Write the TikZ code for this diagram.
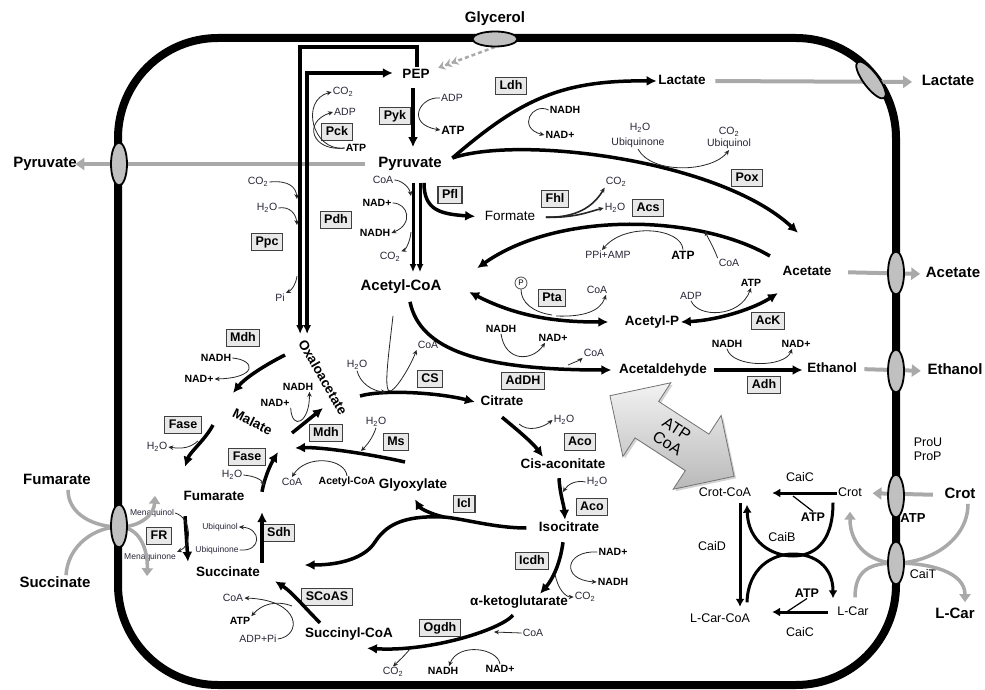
\documentclass[tikz,border=0pt]{standalone}
\usepackage{fontspec}
\setmainfont{Liberation Sans}
\usetikzlibrary{arrows.meta, shapes.geometric, shapes.arrows, shadows, positioning}

\definecolor{pwGray}{HTML}{A9A9A9}
\definecolor{pwChan}{HTML}{C0C0C0}
\definecolor{pwBox}{HTML}{E8E8E8}
\definecolor{pwEdge}{HTML}{404040}
\definecolor{pwCof}{HTML}{262637}

\tikzset{
  pwmet/.style={font=\fontsize{13.5}{15}\selectfont\bfseries, inner sep=1.5pt, text height=10pt, text depth=3pt},
  pwbig/.style={font=\fontsize{15}{17}\selectfont\bfseries, inner sep=1.5pt, text height=11pt, text depth=3.3pt},
  pwreg/.style={font=\fontsize{13.5}{15}\selectfont, inner sep=1.5pt, text height=10pt, text depth=3pt},
  pwcai/.style={font=\fontsize{12.5}{14}\selectfont, inner sep=1.5pt, text height=9.5pt, text depth=2.5pt},
  pwcof/.style={font=\fontsize{10.5}{12}\selectfont, inner sep=1pt, text=pwCof},
  pwcofb/.style={font=\fontsize{10.5}{12}\selectfont\bfseries, inner sep=1pt},
  pwtiny/.style={font=\fontsize{8.5}{9}\selectfont, inner sep=1pt, text=pwCof},
  enzbox/.style={draw=pwEdge, fill=pwBox, line width=1.1pt,
    font=\fontsize{12.5}{14}\selectfont\bfseries, inner xsep=4pt, inner ysep=3pt,
    text height=9pt, text depth=2.5pt},
  membrane/.style={line width=8pt, rounded corners=100pt},
  chanv/.style={ellipse, draw, line width=1.8pt, fill=pwChan, minimum width=16pt, minimum height=43pt, inner sep=0pt},
  chanh/.style={ellipse, draw, line width=1.8pt, fill=pwChan, minimum width=45pt, minimum height=15pt, inner sep=0pt},
  flux/.style={line width=3.5pt, -{Latex[length=10pt,width=10pt]}},
  fluxd/.style={line width=3.5pt, {Latex[length=10pt,width=10pt]}-{Latex[length=10pt,width=10pt]}},
  fluxp/.style={line width=3pt, -{Latex[length=8pt,width=7pt]}},
  fluxs/.style={line width=3pt, -{Latex[length=8pt,width=9pt]}},
  cofa/.style={line width=0.8pt, draw=black!85, -{Stealth[length=5pt,width=4.5pt]}},
  cofl/.style={line width=0.8pt, draw=black!85},
  trans/.style={line width=4pt, draw=pwGray, -{Triangle[length=9pt,width=12pt]}},
  transs/.style={line width=3.5pt, draw=pwGray, -{Triangle[length=8pt,width=11pt]}},
  glydash/.style={line width=2.5pt, draw=pwGray, dash pattern=on 4pt off 3pt,
    -{Stealth[length=7pt,width=9pt] Stealth[length=7pt,width=9pt] Stealth[length=7pt,width=9pt]}},
  bigarrow/.style={double arrow, draw=black!55, line width=0.8pt, top color=gray!10, bottom color=gray!55,
    double arrow head extend=20pt, minimum height=148pt, minimum width=88pt, inner sep=5pt,
    font=\fontsize{16}{17}\selectfont, align=center,
    drop shadow={opacity=0.35, shadow xshift=2pt, shadow yshift=-2pt}},
  pcirc/.style={circle, draw=black!70, line width=0.8pt, fill=white, inner sep=0.5pt,
    minimum size=12pt, font=\fontsize{8}{9}\selectfont}
}

\begin{document}
\begin{tikzpicture}[x=1pt, y=-1pt]
  \useasboundingbox (0,0) rectangle (985,690);

  % cell
  \draw[membrane] (118,38) rectangle (896,685);

  % outside
  \node[pwbig] (glyc) at (495,19) {Glycerol};
  \node[pwbig] (pyrout) at (45,164) {Pyruvate};
  \node[pwbig] (lacout) at (948,82) {Lactate};
  \node[pwbig] (aceout) at (953,274) {Acetate};
  \node[pwbig] (etohout) at (955,371) {Ethanol};
  \node[pwbig] (fumout) at (57,481) {Fumarate};
  \node[pwbig] (succout) at (55,584) {Succinate};
  \node[pwbig] (crotout) at (960,495) {Crot};
  \node[pwbig] (lcarout) at (955,615) {L-Car};
  \node[pwcai, align=left] (prou) at (928,457) {ProU\\ProP};
  \node[pwcofb, font=\fontsize{13}{14}\selectfont\bfseries] (tatp) at (913,518) {ATP};
  \node[pwcai] (cait) at (923,575) {CaiT};

  % metabolites
  \node[pwmet] (pep) at (416,75) {PEP};
  \node[pwbig] (pyr) at (410,164) {Pyruvate};
  \node[pwbig] (acoa) at (401,287) {Acetyl-CoA};
  \node[pwmet] (lacin) at (682,81) {Lactate};
  \node[pwreg] (form) at (510,217) {Formate};
  \node[pwmet] (acein) at (807,272) {Acetate};
  \node[pwmet] (acp) at (652,322) {Acetyl-P};
  \node[pwmet] (acald) at (663,370) {Acetaldehyde};
  \node[pwmet] (etoh) at (832,369) {Ethanol};
  \node[pwmet] (cit) at (502,402) {Citrate};
  \node[pwmet] (cisa) at (563,465) {Cis-aconitate};
  \node[pwmet] (icit) at (569,528) {Isocitrate};
  \node[pwmet] (akg) at (519,602) {α-ketoglutarate};
  \node[pwmet] (sucoa) at (349,634) {Succinyl-CoA};
  \node[pwmet] (succ) at (228,573) {Succinate};
  \node[pwmet] (fum) at (214,497) {Fumarate};
  \node[pwmet, rotate=-26] (mal) at (252,423) {Malate};
  \node[pwmet, rotate=-60] (oaa) at (322,378) {Oxaloacetate};
  \node[pwmet] (glx) at (413,485) {Glyoxylate};

  % carnitine part
  \node[pwcai] (crotcoa) at (725,493) {Crot-CoA};
  \node[pwcai] (crot) at (850,493) {Crot};
  \node[pwcai] (lcarcoa) at (720,619) {L-Car-CoA};
  \node[pwcai] (lcar) at (853,612) {L-Car};
  \node[pwcai] (caic1) at (800,478) {CaiC};
  \node[pwcai] (caic2) at (800,633) {CaiC};
  \node[pwcai] (caid) at (712,547) {CaiD};
  \node[pwcai] (caib) at (782,538) {CaiB};
  \node[pwcofb, font=\fontsize{12.5}{14}\selectfont\bfseries] (caiatp1) at (813,517) {ATP};
  \node[pwcofb, font=\fontsize{12.5}{14}\selectfont\bfseries] (caiatp2) at (807,593) {ATP};

  % enzymes
  \foreach \nm/\x/\y/\txt in {pck/337/132/Pck, pyk/395/116/Pyk, ldh/511/86/Ldh, ppc/267/242/Ppc,
      pdh/336/220/Pdh, pfl/450/195/Pfl, fhl/555/199/Fhl, acs/648/208/Acs, pox/747/178/Pox,
      pta/552/298/Pta, ack/768/321/AcK, addh/523/381/AdDH, adh/764/385/Adh, cs/430/379/CS,
      aco1/580/442/Aco, aco2/592/507/Aco, icdh/532/561/Icdh, icl/464/504/Icl, ogdh/440/628/Ogdh,
      scoas/327/597/SCoAS, ms/396/442/Ms, mdh1/243/338/Mdh, mdh2/326/433/Mdh, fase1/183/425/Fase,
      fase2/247/457/Fase, sdh/279/533/Sdh, fr/159/536/FR}
    \node[enzbox] (\nm) at (\x,\y) {\txt};

  % cofactors
  \foreach \nm/\x/\y/\txt in {pckco/343/92/{CO\textsubscript{2}}, pckadp/345/112/ADP,
      ppcco/258/182/{CO\textsubscript{2}}, ppch2o/267/208/{H\textsubscript{2}O}, ppcpi/280/298/Pi,
      pykadp/452/98/ADP, pdhcoa/383/180/CoA, pdhco/390/257/{CO\textsubscript{2}},
      poxh2o/640/128/{H\textsubscript{2}O}, poxq/638/143/Ubiquinone,
      poxco/729/132/{CO\textsubscript{2}}, poxqh/729/144/Ubiquinol,
      fhlco/616/182/{CO\textsubscript{2}}, fhlh2o/615/208/{H\textsubscript{2}O},
      acsppi/608/255/PPi+AMP, acscoa/729/263/CoA, ptacoa/597/290/CoA, ackadp/691/296/ADP,
      addhcoa/594/353/CoA, csh2o/357/365/{H\textsubscript{2}O}, cscoa/428/345/CoA,
      acoh1/564/420/{H\textsubscript{2}O}, acoh2/597/482/{H\textsubscript{2}O},
      icdhco/585/597/{CO\textsubscript{2}}, ogdhcoa/533/633/CoA, ogdhco/393/672/{CO\textsubscript{2}},
      scoacoa/233/598/CoA, scoaadp/258/639/ADP+Pi, fah1/157/447/{H\textsubscript{2}O},
      fah2/232/475/{H\textsubscript{2}O}, msh2o/376/422/{H\textsubscript{2}O}, mscoa/292/482/CoA}
    \node[pwcof] (\nm) at (\x,\y) {\txt};
  \foreach \nm/\x/\y/\txt in {pckatp/356/148/ATP, ldhnadh/565/110/NADH, ldhnad/560/135/NAD+,
      pdhnad/377/203/NAD+, pdhnadh/375/233/NADH, ackatp/751/283/ATP,
      addhnadh/501/329/NADH, addhnad/553/338/NAD+, adhnadh/727/344/NADH, adhnad/796/344/NAD+,
      icdhnad/613/552/NAD+, icdhnadh/613/582/NADH, ogdhnad/500/669/NAD+, ogdhnadh/443/671/NADH,
      scoaatp/240/621/ATP, mdhnadh1/216/358/NADH, mdhnad1/199/379/NAD+, mdhnad2/275/403/NAD+,
      mdhnadh2/298/387/NADH, msacoa/347/482/Acetyl-CoA}
    \node[pwcofb] (\nm) at (\x,\y) {\txt};
  \node[pwcofb, font=\fontsize{12}{13}\selectfont\bfseries] (pykatp) at (453,130) {ATP};
  \node[pwcofb, font=\fontsize{12}{13}\selectfont\bfseries] (acsatp) at (683,255) {ATP};
  \foreach \nm/\x/\y/\txt in {frmqh/152/513/Menaquinol, frmq/150/557/Menaquinone,
      sdhqh/220/527/Ubiquinol, sdhq/217/550/Ubiquinone}
    \node[pwtiny] (\nm) at (\x,\y) {\txt};
  \node[pcirc] (phos) at (521,283) {P};

  % transport
  \draw[trans, shorten <=12pt, shorten >=-3pt] (pyr.west) -- (pyrout.east);
  \draw[trans, shorten <=8pt, shorten >=8pt] (lacin.east) -- (lacout.west);
  \draw[trans, shorten <=15pt, shorten >=4pt] (acein.east) -- (aceout.west);
  \draw[trans, shorten <=6pt, shorten >=5pt] (etoh.east) -- (etohout.west);
  \draw[trans, shorten <=10pt, shorten >=9pt] (crotout.west) -- (crot.east);
  \draw[glydash] (495,47) -- ([shift={(7,1)}]pep.north east);
  \draw[transs] ([xshift=11pt]fumout.south) .. controls (68,515) and (95,527) .. (119,527)
    .. controls (140,527) and (154,515) .. ([shift={(3,-12)}]frmqh.north);
  \draw[transs] ([xshift=11pt]succout.north) .. controls (68,545) and (95,527) .. (119,527)
    .. controls (140,527) and (148,550) .. ([shift={(-3,14)}]frmq.south);
  \draw[transs] ([xshift=8pt]crotout.south) .. controls (968,540) and (930,563) .. (896,563)
    .. controls (870,563) and (850,545) .. ([shift={(0,11)}]crot.south);
  \draw[transs] ([shift={(2,-7)}]lcar.north) .. controls (855,570) and (870,563) .. (896,563)
    .. controls (930,563) and (965,572) .. ([shift={(10,-4)}]lcarout.north);

  % channels
  \node[chanh] (chglyc) at (495,39) {};
  \node[chanh, rotate=-53] (chlac) at (871,80) {};
  \foreach \nm/\y in {chpyr/164, chfum/526}
    \node[chanv] (\nm) at (119,\y) {};
  \foreach \nm/\y in {chace/273, chetoh/371, chcrot/496, chcait/563}
    \node[chanv] (\nm) at (896,\y) {};

  % Ppc / Pck
  \draw[line width=3.5pt, -{Latex[length=9pt,width=8pt]}, shorten >=6pt]
    ([xshift=1pt]pep.north) -- ++(0,-20) -| (oaa.west);
  \draw[line width=3.5pt, {Latex[length=9pt,width=8pt]}-{Latex[length=10pt,width=10pt]},
    shorten <=6pt, shorten >=8pt] ([xshift=7pt]oaa.west) |- ([yshift=2pt]pep.west);
  \draw[cofa] (pckatp.west) .. controls (312,152) and (302,122) .. (pckadp.west);
  \draw[cofa] (pckatp.west) .. controls (312,152) and (300,100) .. (pckco.west);
  \draw[cofa] (ppcco.east) .. controls (290,180) and (296,188) .. (297,199);
  \draw[cofa] (ppch2o.east) .. controls (290,206) and (296,214) .. (297,225);
  \draw[cofa] (297,276) .. controls (296,284) and (292,290) .. (ppcpi.north east);

  % glycolysis end
  \draw[flux, shorten <=5pt, shorten >=8pt] ([xshift=-3pt]pep.south) -- ([xshift=-3pt]pep.south |- pyr.north);
  \draw[cofa] (pykadp.west) .. controls (420,96) and (405,124) .. (pykatp.west);
  \draw[fluxp, shorten <=10pt, shorten >=6pt] ([xshift=3pt]pyr.south) -- ([xshift=3pt]pyr.south |- acoa.north);
  \draw[fluxp, shorten <=10pt, shorten >=6pt] ([xshift=10pt]pyr.south) -- ([xshift=10pt]pyr.south |- acoa.north);
  \draw[flux, shorten <=10pt, shorten >=8pt] ([xshift=14pt]pyr.south) .. controls (424,210) and (440,214) .. (form.west);
  \draw[cofa] (pdhcoa.east) .. controls (400,180) and (409,186) .. (411,196);
  \draw[cofa] (pdhnad.east) .. controls (408,203) and (414,224) .. (pdhnadh.east);
  \draw[cofa] (411,232) .. controls (410,243) and (405,250) .. (pdhco.north east);

  % Ldh, Pox
  \draw[flux] ([shift={(9,-6)}]pyr.east) .. controls (520,100) and (560,80) .. (lacin.west);
  \draw[cofa] (ldhnadh.west) .. controls (532,102) and (517,128) .. (ldhnad.west);
  \draw[flux] ([shift={(9,-6)}]pyr.east) .. controls (520,135) and (720,160) .. ([shift={(-9,-31)}]acein.north);
  \draw[cofa] (poxq.south) .. controls (652,175) and (712,172) .. (poxqh.south);

  % Fhl
  \draw[cofa, line width=1.6pt, shorten <=9pt] (form.east) .. controls (582,218) and (596,202) .. (fhlco.south west);
  \draw[cofa, line width=1.6pt, shorten <=9pt] (form.east) .. controls (575,218) and (588,212) .. (fhlh2o.west);

  % acetate
  \draw[flux] ([shift={(-11,-16)}]acein.west) .. controls (700,215) and (560,210) .. ([shift={(34,-10)}]acoa.north east);
  \draw[cofa] (acsatp.north) .. controls (682,228) and (625,222) .. ([xshift=-6pt]acsppi.north);
  \draw[cofa] (acscoa.north west) .. controls (714,248) and (708,238) .. (705,231);
  \draw[fluxd] ([shift={(26,5)}]acoa.east) .. controls (520,318) and (560,322) .. ([xshift=-15pt]acp.west);
  \draw[cofl] (phos.south) .. controls (521,302) and (532,312) .. (552,315);
  \draw[cofa] (556,316) .. controls (582,317) and (600,312) .. ([xshift=9pt]ptacoa.south);
  \draw[fluxd] (acp.east) .. controls (720,320) and (755,308) .. ([shift={(-3,21)}]acein.west);
  \draw[cofa] (ackadp.south) .. controls (698,318) and (740,318) .. (ackatp.south);

  % ethanol
  \draw[flux] ([shift={(9,6)}]acoa.south) .. controls (420,350) and (480,370) .. ([xshift=-6pt]acald.west);
  \draw[cofa] (addhnadh.south) .. controls (505,362) and (532,362) .. ([xshift=-8pt]addhnad.south);
  \draw[cofa] (568,365) .. controls (575,362) and (580,360) .. (addhcoa.south west);
  \draw[flux, shorten <=5pt, shorten >=3pt] (acald.east) -- (acald.east -| etoh.west);
  \draw[cofa] (adhnadh.south) .. controls (732,368) and (785,368) .. ([xshift=-4pt]adhnad.south);

  % TCA
  \draw[flux] ([shift={(38,18)}]oaa.center) .. controls (385,389) and (440,393) .. ([xshift=-4pt]cit.west);
  \draw[cofa] (csh2o.south) .. controls (360,383) and (372,391) .. (386,392);
  \draw[cofa] ([shift={(-8,20)}]acoa.south) .. controls (388,360) and (383,394) .. (391,391)
    .. controls (400,385) and (412,362) .. (cscoa.south west);
  \draw[flux] ([shift={(0,7)}]cit.south) .. controls (515,428) and (532,442) .. ([xshift=-20pt]cisa.north);
  \draw[cofa] (519,424) .. controls (528,432) and (542,428) .. (acoh1.west);
  \draw[flux] ([shift={(-4,5)}]cisa.south) .. controls (560,495) and (564,505) .. ([xshift=-4pt]icit.north);
  \draw[cofa] (acoh2.west) .. controls (576,480) and (568,484) .. (563,492);
  \draw[flux] ([shift={(-6,6)}]icit.south) .. controls (560,565) and (552,580) .. ([xshift=21pt]akg.north);
  \draw[cofa] (icdhnad.west) .. controls (565,550) and (560,580) .. (icdhnadh.west);
  \draw[cofa] (555,574) .. controls (558,590) and (566,597) .. (icdhco.west);
  \draw[flux] ([shift={(-6,5)}]akg.south) .. controls (500,630) and (430,652) .. ([shift={(18,6)}]sucoa.south);
  \draw[cofa] (ogdhcoa.west) -- (494,632);
  \draw[cofa] (ogdhnad.north) .. controls (498,648) and (458,642) .. ([xshift=6pt]ogdhnadh.north);
  \draw[cofa] (410,649) .. controls (405,655) and (400,660) .. (ogdhco.north);
  \draw[flux] ([shift={(-29,-3)}]sucoa.north) .. controls (305,608) and (292,592) .. ([xshift=47pt]succ.south);
  \draw[cofa] (scoaadp.east) .. controls (302,636) and (302,600) .. (scoacoa.east);
  \draw[cofa] (292,606) .. controls (276,600) and (262,604) .. (scoaatp.north east);
  \draw[flux] ([shift={(34,-2)}]succ.north) -- ([shift={(48,7)}]fum.south);
  \draw[cofa] (sdhq.east) .. controls (262,552) and (262,528) .. (sdhqh.east);
  \draw[flux] ([shift={(-29,11)}]fum.south) -- ([shift={(-40,-3)}]succ.north);
  \draw[cofa] (frmqh.east) .. controls (192,518) and (192,546) .. (frmq.north east);
  \draw[flux] ([shift={(48,3)}]fum.north) .. controls (265,475) and (272,462) .. ([shift={(26,29)}]mal.center);
  \draw[cofa] (fah2.east) .. controls (255,476) and (262,480) .. (264,486);
  \draw[flux] ([shift={(-39,2)}]mal.center) .. controls (205,440) and (190,452) .. ([shift={(-29,-22)}]fum.north);
  \draw[cofa] (198,441) .. controls (190,448) and (182,449) .. (fah1.east);
  \draw[flux] ([shift={(-37,-23)}]oaa.center) .. controls (265,365) and (245,378) .. ([shift={(-19,-30)}]mal.center);
  \draw[cofa] (mdhnadh1.east) .. controls (256,360) and (258,378) .. (mdhnad1.east);
  \draw[flux] ([shift={(40,10)}]mal.center) -- ([shift={(1,30)}]oaa.center);
  \draw[cofa] (mdhnad2.south east) .. controls (292,432) and (310,422) .. ([xshift=-5pt]mdhnadh2.south east);

  % glyoxylate shunt
  \coordinate (iclsplit) at (444,517);
  \draw[flux] ([xshift=-11pt]icit.west) .. controls (495,528) and (465,519) .. (iclsplit)
    .. controls (430,514) and (420,508) .. ([shift={(2,6)}]glx.south);
  \draw[flux] (iclsplit) .. controls (400,515) and (385,527) .. (375,542)
    .. controls (365,558) and (340,565) .. ([shift={(43,-8)}]succ.east);
  \draw[flux] ([shift={(-8,-23)}]glx.center) .. controls (365,453) and (320,447) .. ([shift={(43,25)}]mal.center);
  \draw[cofa] (msh2o.south) .. controls (373,438) and (366,446) .. (361,451);
  \draw[cofa] (msacoa.north) .. controls (345,458) and (306,454) .. (mscoa.north);

  % carnitine cycle
  \draw[fluxs, shorten >=19.5pt] (crot.west) -- (crot.west -| crotcoa.east);
  \draw[fluxs, shorten <=8pt, shorten >=20.5pt] (lcar.west) -- (lcar.west -| lcarcoa.east);
  \draw[fluxs, shorten <=2.5pt, shorten >=4.5pt] ([xshift=15pt]crotcoa.south) -- ([xshift=15pt]crotcoa.south |- lcarcoa.north);
  \draw[fluxs] ([shift={(-17,2)}]crot.south) .. controls (833,545) and (812,556) .. (793,556)
    .. controls (772,556) and (748,542) .. ([shift={(22,4)}]crotcoa.south);
  \draw[fluxs] ([shift={(27,-9)}]lcarcoa.north) .. controls (748,568) and (772,554) .. (793,554)
    .. controls (814,554) and (833,566) .. ([shift={(-20,-6)}]lcar.north);
  \draw[line width=1.2pt] (caiatp1.north) -- (793,496);
  \draw[line width=1.2pt] (caiatp2.south) -- (785,613);

  % energy exchange
  \node[bigarrow, rotate=-33] (atpcoa) at (672,436) {ATP\\CoA};
\end{tikzpicture}
\end{document}
